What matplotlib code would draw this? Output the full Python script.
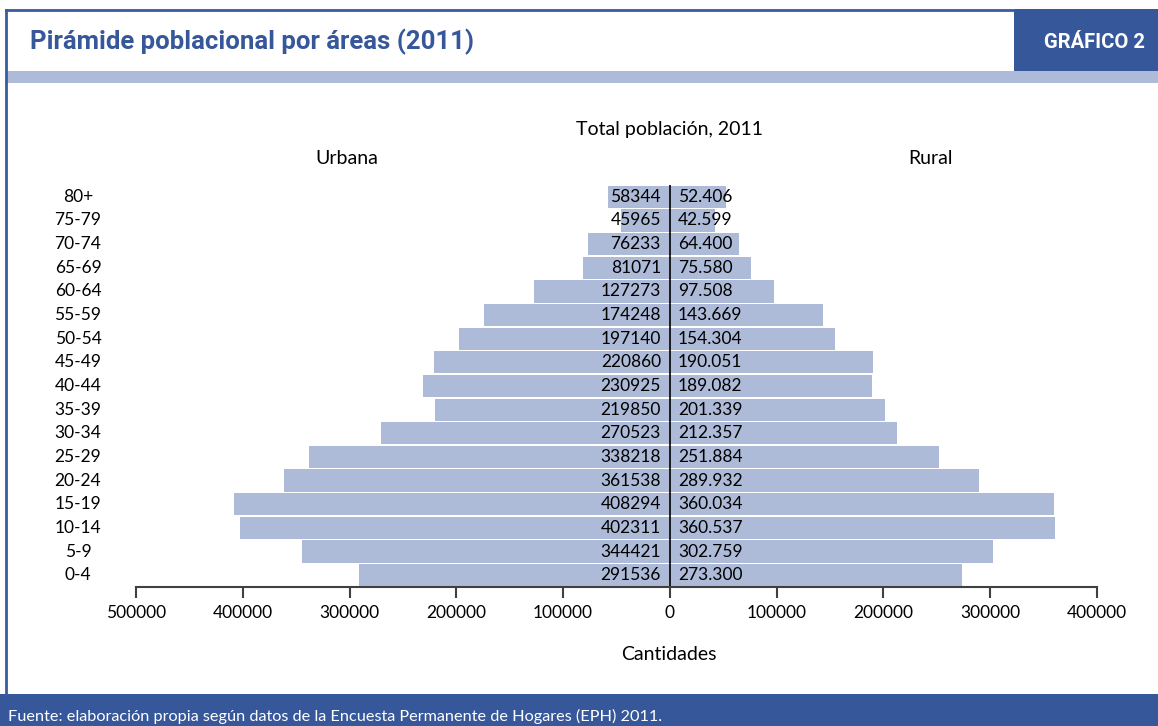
import matplotlib.pyplot as plt
from matplotlib.patches import Rectangle
from matplotlib.lines import Line2D

plt.rcParams['font.family'] = ['Lato', 'DejaVu Sans']

grupos = ['0-4', '5-9', '10-14', '15-19', '20-24', '25-29', '30-34', '35-39',
          '40-44', '45-49', '50-54', '55-59', '60-64', '65-69', '70-74',
          '75-79', '80+']
urbana = [291536, 344421, 402311, 408294, 361538, 338218, 270523, 219850,
          230925, 220860, 197140, 174248, 127273, 81071, 76233, 45965, 58344]
rural = [273300, 302759, 360537, 360034, 289932, 251884, 212357, 201339,
         189082, 190051, 154304, 143669, 97508, 75580, 64400, 42599, 52406]
ticks = [-500000, -400000, -300000, -200000, -100000, 0, 100000, 200000,
         300000, 400000]

azul = '#36579a'
celeste = '#aebbd8'
W, H = 1158, 726

fig = plt.figure(figsize=(W / 100, H / 100), dpi=100)

def px(x, y, w, h, color):
    # rectangulo en pixeles (origen arriba a la izquierda)
    r = Rectangle((x / W, 1 - (y + h) / H), w / W, h / H,
                  transform=fig.transFigure, lw=0, color=color)
    fig.add_artist(r)

# marco, cabecera y pie
fig.add_artist(Line2D([6 / W, 1014 / W], [1 - 10 / H, 1 - 10 / H],
                      transform=fig.transFigure, color='#3a5ba0', lw=2))
fig.add_artist(Line2D([6 / W, 6 / W], [1 - 10 / H, 1 - 694 / H],
                      transform=fig.transFigure, color='#3a5ba0', lw=2))
px(1014, 9, W - 1014, 62, azul)
px(6, 71, W - 6, 12, celeste)
px(0, 694, W, 32, azul)

fig.text(30 / W, 1 - 42 / H, 'Pirámide poblacional por áreas (2011)',
         color=azul, fontsize=18.5, fontweight='bold', family='Roboto',
         va='center', ha='left')
fig.text(1094 / W, 1 - 42 / H, 'GRÁFICO 2', color='white', fontsize=14.5,
         fontweight='bold', family='Roboto', va='center', ha='center')
fig.text(8 / W, 1 - 716 / H,
         'Fuente: elaboración propia según datos de la Encuesta Permanente '
         'de Hogares (EPH) 2011.', color='white', fontsize=11.7,
         va='center', ha='left')

fig.text(670 / W, 1 - 129 / H, 'Total población, 2011', fontsize=14,
         ha='center', va='center')
fig.text(347 / W, 1 - 159 / H, 'Urbana', fontsize=14, ha='center', va='center')
fig.text(930 / W, 1 - 159 / H, 'Rural', fontsize=14, ha='center', va='center')
fig.text(669 / W, 1 - 654 / H, 'Cantidades', fontsize=14, ha='center',
         va='center')

ax = fig.add_axes([136 / W, (H - 587) / H, 961 / W, 402 / H])
y = range(len(grupos))
ax.barh(y, [-v for v in urbana], height=0.94, color=celeste, zorder=1)
ax.barh(y, rural, height=0.94, color=celeste, zorder=1)
ax.axvline(0, color='black', lw=1.2, zorder=2)

for i in y:
    ax.annotate(str(urbana[i]), (0, i), xytext=(-9, 0),
                textcoords='offset pixels', ha='right', va='center',
                fontsize=12.5, zorder=3)
    ax.annotate(f'{rural[i]:,}'.replace(',', '.'), (0, i), xytext=(8, 0),
                textcoords='offset pixels', ha='left', va='center',
                fontsize=12.5, zorder=3)
    # etiquetas de edad a la izquierda
    ax.annotate(grupos[i], (0, i), xycoords=('figure fraction', 'data'),
                xytext=(78, 0), textcoords='offset pixels', ha='center',
                va='center', fontsize=12.5, annotation_clip=False)

ax.set_xlim(-500000, 400000)
ax.set_ylim(-0.5, 16.5)
ax.set_yticks([])
ax.set_xticks(ticks)
ax.set_xticklabels([str(abs(t)) for t in ticks], fontsize=12.5)
ax.tick_params(axis='x', length=8, width=1.5, color='#404040', pad=5)
for s in ['top', 'right', 'left']:
    ax.spines[s].set_visible(False)
ax.spines['bottom'].set_color('#404040')
ax.spines['bottom'].set_linewidth(1.5)

fig.savefig('out.png', dpi=100)
